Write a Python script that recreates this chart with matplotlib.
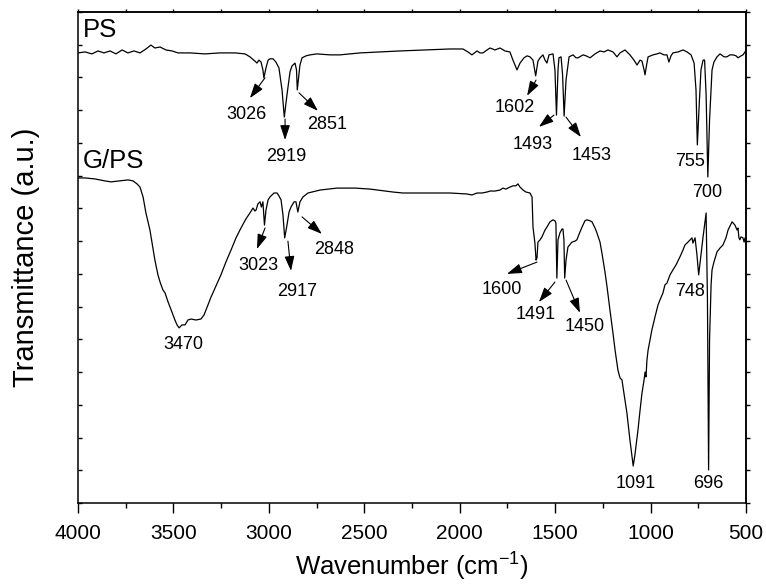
import matplotlib
matplotlib.use("Agg")
import matplotlib.pyplot as plt
from matplotlib.ticker import MultipleLocator

plt.rcParams["font.family"] = ["Liberation Sans", "DejaVu Sans"]
plt.rcParams["mathtext.fontset"] = "custom"
plt.rcParams["mathtext.rm"] = "Liberation Sans"
plt.rcParams["mathtext.it"] = "Liberation Sans:italic"

# ── PS spectrum (wavenumber, transmittance a.u.) ─────────────────────────────
ps_wn = [4000, 3963, 3927, 3895, 3864, 3832, 3801, 3769, 3738, 3707, 3675, 3644,
         3618, 3597, 3570, 3539, 3507, 3476, 3413, 3335, 3256, 3177, 3125, 3099,
         3073, 3062, 3052, 3041, 3031, 3026, 3015, 3004, 2994, 2978, 2963, 2947,
         2931, 2919, 2905, 2889, 2879, 2863, 2855, 2851, 2837, 2826, 2805, 2784,
         2748, 2680, 2627, 2522, 2418, 2313, 2182, 2051, 1983, 1957, 1936, 1909,
         1894, 1878, 1857, 1841, 1815, 1789, 1763, 1737, 1721, 1700, 1684, 1663,
         1647, 1632, 1616, 1602, 1590, 1579, 1564, 1553, 1543, 1532, 1511, 1501,
         1493, 1485, 1480, 1469, 1461, 1453, 1443, 1427, 1406, 1391, 1380, 1354,
         1338, 1317, 1291, 1265, 1244, 1223, 1197, 1176, 1160, 1134, 1108, 1087,
         1071, 1055, 1045, 1034, 1029, 1021, 1013, 987, 966, 951, 930, 914, 904,
         893, 883, 856, 830, 809, 788, 772, 762, 755, 744, 736, 725, 717, 709,
         700, 691, 678, 668, 652, 636, 615, 600, 584, 568, 552, 542, 526, 516,
         505, 500]
ps_t = [13.75, 13.78, 13.72, 13.81, 13.75, 13.81, 13.72, 13.84, 13.75, 13.81, 13.75, 13.87,
        13.99, 13.90, 13.93, 13.84, 13.81, 13.75, 13.75, 13.72, 13.75, 13.75, 13.72, 13.63,
        13.50, 13.44, 13.53, 13.47, 13.23, 12.99, 13.29, 13.53, 13.57, 13.57, 13.47, 13.29,
        12.62, 11.79, 12.47, 13.17, 13.35, 13.44, 13.23, 12.62, 13.38, 13.60, 13.66, 13.69,
        13.72, 13.69, 13.69, 13.75, 13.78, 13.81, 13.84, 13.87, 13.87, 13.78, 13.69, 13.81,
        13.75, 13.75, 13.84, 13.90, 13.84, 13.90, 13.81, 13.78, 13.53, 13.23, 13.44, 13.60,
        13.66, 13.63, 13.53, 13.05, 13.50, 13.60, 13.69, 13.53, 13.44, 13.69, 13.72, 13.23,
        11.85, 13.23, 13.60, 13.63, 13.08, 11.82, 12.92, 13.63, 13.69, 13.60, 13.60, 13.69,
        13.66, 13.60, 13.72, 13.81, 13.78, 13.84, 13.78, 13.63, 13.75, 13.84, 13.69, 13.53,
        13.38, 13.53, 13.50, 13.23, 13.08, 13.38, 13.63, 13.69, 13.72, 13.75, 13.69, 13.69, 13.47,
        13.66, 13.75, 13.78, 13.84, 13.78, 13.69, 13.44, 12.62, 10.94, 12.31, 13.23, 13.53, 13.53, 12.47,
        9.96, 11.70, 13.23, 13.47, 13.63, 13.72, 13.63, 13.63, 13.69, 13.69, 13.66, 13.60, 13.66, 13.69,
        13.78, 13.84]

# ── G/PS spectrum ────────────────────────────────────────────────────────────
gps_wn = [4000, 3963, 3911, 3859, 3827, 3780, 3738, 3712, 3691, 3675, 3659, 3644,
          3623, 3597, 3581, 3570, 3555, 3544, 3528, 3518, 3502, 3492, 3481, 3470,
          3455, 3439, 3424, 3408, 3382, 3356, 3340, 3329, 3303, 3277, 3251, 3225,
          3198, 3172, 3146, 3120, 3099, 3083, 3073, 3067, 3057, 3046, 3039, 3031,
          3023, 3015, 3004, 2994, 2973, 2957, 2947, 2936, 2926, 2917, 2905, 2894,
          2884, 2868, 2858, 2848, 2837, 2821, 2795, 2732, 2643, 2549, 2470, 2350,
          2297, 2208, 2140, 2051, 1962, 1936, 1909, 1883, 1857, 1841, 1815, 1789,
          1773, 1758, 1737, 1721, 1705, 1695, 1684, 1668, 1653, 1632, 1621, 1616,
          1606, 1600, 1595, 1590, 1579, 1569, 1553, 1543, 1527, 1511, 1501, 1496,
          1491, 1485, 1475, 1464, 1459, 1454, 1450, 1443, 1433, 1412, 1396, 1386,
          1370, 1359, 1344, 1333, 1317, 1307, 1291, 1281, 1265, 1255, 1239, 1228,
          1213, 1197, 1186, 1171, 1160, 1150, 1134, 1124, 1108, 1091, 1082, 1066,
          1055, 1045, 1034, 1029, 1024, 1019, 1013, 993, 977, 961, 951, 935, 925,
          914, 898, 883, 867, 846, 830, 820, 804, 793, 783, 778, 767, 757, 748,
          736, 725, 715, 709, 702, 696, 691, 683, 678, 668, 652, 636, 621, 605,
          594, 584, 573, 563, 558, 547, 542, 537, 532, 526, 516, 510, 505, 500]
gps_t = [9.93, 9.93, 9.90, 9.84, 9.81, 9.84, 9.87, 9.84, 9.75, 9.65, 9.35, 8.86,
         8.34, 7.42, 6.97, 6.75, 6.51, 6.42, 6.14, 5.99, 5.74, 5.59, 5.44, 5.35,
         5.44, 5.44, 5.59, 5.62, 5.59, 5.62, 5.74, 5.90, 6.29, 6.63, 6.97, 7.36,
         7.73, 8.10, 8.40, 8.68, 8.86, 9.01, 8.92, 8.95, 9.14, 9.20, 9.04, 9.20,
         8.49, 8.95, 9.26, 9.35, 9.47, 9.47, 9.38, 9.26, 8.80, 8.10, 8.49, 8.89,
         9.04, 9.20, 9.20, 8.89, 9.20, 9.35, 9.47, 9.56, 9.62, 9.62, 9.59, 9.50,
         9.47, 9.47, 9.47, 9.47, 9.44, 9.41, 9.47, 9.47, 9.50, 9.53, 9.53, 9.56,
         9.62, 9.59, 9.65, 9.69, 9.69, 9.75, 9.65, 9.56, 9.50, 9.47, 9.35, 8.43,
         7.94, 7.42, 7.49, 7.97, 8.04, 8.13, 8.34, 8.43, 8.59, 8.65, 8.62, 8.55,
         6.87, 8.04, 8.25, 8.37, 8.37, 8.04, 6.87, 7.42, 7.82, 7.97, 8.00, 8.04,
         8.28, 8.43, 8.62, 8.65, 8.62, 8.59, 8.40, 8.25, 7.97, 7.64, 7.06, 6.60,
         5.90, 5.19, 4.67, 4.06, 3.82, 3.76, 3.15, 2.75, 1.92, 1.13, 1.47, 2.23,
         2.84, 3.36, 3.76, 4.00, 3.85, 4.37, 4.67, 5.29, 5.68, 6.05, 6.20, 6.42, 6.66,
         6.72, 6.97, 7.12, 7.27, 7.52, 7.73, 7.88, 7.97, 8.04, 8.10, 7.94, 8.10, 7.58, 6.97,
         7.58, 8.13, 8.59, 8.86, 6.20, 1.01, 4.98, 6.66, 7.12, 7.36, 7.67, 7.79, 7.88, 8.10,
         8.34, 8.46, 8.59, 8.52, 8.49, 8.34, 8.40, 8.10, 8.04, 8.13, 8.10, 7.97, 8.10, 7.97]

# ── annotations: label, text (wn, T), arrow start, arrow tip ─────────────────
peak_labels = [
    ("3026", (3115, 11.88), (3020, 12.99), (3099, 12.37)),
    ("2919", (2910, 10.57), (2915, 11.73), (2915, 11.09)),
    ("2851", (2695, 11.55), (2842, 12.53), (2743, 11.98)),
    ("1602", (1710, 12.07), (1600, 12.92), (1647, 12.44)),
    ("1493", (1616, 10.94), (1506, 11.85), (1585, 11.49)),
    ("1453", (1307, 10.63), (1443, 11.79), (1365, 11.18)),
    ("755", (793, 10.42), None, None),
    ("700", (704, 9.50), None, None),
    ("3470", (3450, 4.83), None, None),
    ("3023", (3057, 7.27), (3020, 8.40), (3062, 7.76)),
    ("2917", (2853, 6.45), (2900, 8.00), (2884, 7.09)),
    ("2848", (2659, 7.73), (2826, 8.74), (2722, 8.22)),
    ("1600", (1778, 6.51), (1595, 7.36), (1752, 7.00)),
    ("1491", (1600, 5.77), (1501, 6.75), (1585, 6.14)),
    ("1450", (1344, 5.38), (1443, 6.81), (1370, 5.81)),
    ("748", (793, 6.45), None, None),
    ("1091", (1076, 0.58), None, None),
    ("696", (699, 0.58), None, None),
]

fig = plt.figure(figsize=(7.66, 5.85), dpi=100)
ax = fig.add_axes([0.1018, 0.1402, 0.8721, 0.8393])

ax.plot(ps_wn, ps_t, color="black", lw=0.9)
ax.plot(gps_wn, gps_t, color="black", lw=0.9)

ax.text(3974, 14.45, "PS", fontsize=18.5, ha="left", va="center")
ax.text(3974, 10.45, "G/PS", fontsize=18.5, ha="left", va="center")

for label, (tx, ty), start, tip in peak_labels:
    ax.text(tx, ty, label, fontsize=13, ha="center", va="center")
    if start is not None:
        ax.annotate("", xy=tip, xytext=start,
                    arrowprops=dict(arrowstyle="-|>,head_length=0.9,head_width=0.3",
                                    color="black", lw=0.8, mutation_scale=10,
                                    shrinkA=0, shrinkB=0))

ax.set_xlim(4000, 500)
ax.set_ylim(0, 15)
ax.xaxis.set_major_locator(MultipleLocator(500))
ax.xaxis.set_minor_locator(MultipleLocator(250))
ax.yaxis.set_major_locator(MultipleLocator(1))
ax.tick_params(axis="x", which="major", direction="out", length=7, width=1.0,
               labelsize=15, pad=8)
ax.tick_params(axis="x", which="minor", direction="out", length=3.5, width=1.0)
ax.tick_params(axis="y", which="major", direction="in", length=3, width=1.0,
               labelleft=False)

top = ax.secondary_xaxis("top")
top.xaxis.set_major_locator(MultipleLocator(250))
top.tick_params(direction="out", length=2.5, width=1.0, labeltop=False)
right = ax.secondary_yaxis("right")
right.yaxis.set_major_locator(MultipleLocator(1))
right.tick_params(direction="out", length=3, width=1.0, labelright=False)

for sp in list(ax.spines.values()) + [top.spines["top"], right.spines["right"]]:
    sp.set_linewidth(1.1)

ax.set_xlabel(r"Wavenumber (cm$^{-1}$)", fontsize=18.5)
ax.set_ylabel("Transmittance (a.u.)", fontsize=21)
ax.xaxis.set_label_coords(0.5, -0.098)
ax.yaxis.set_label_coords(-0.057, 0.5)

fig.savefig("out.png", dpi=100)
